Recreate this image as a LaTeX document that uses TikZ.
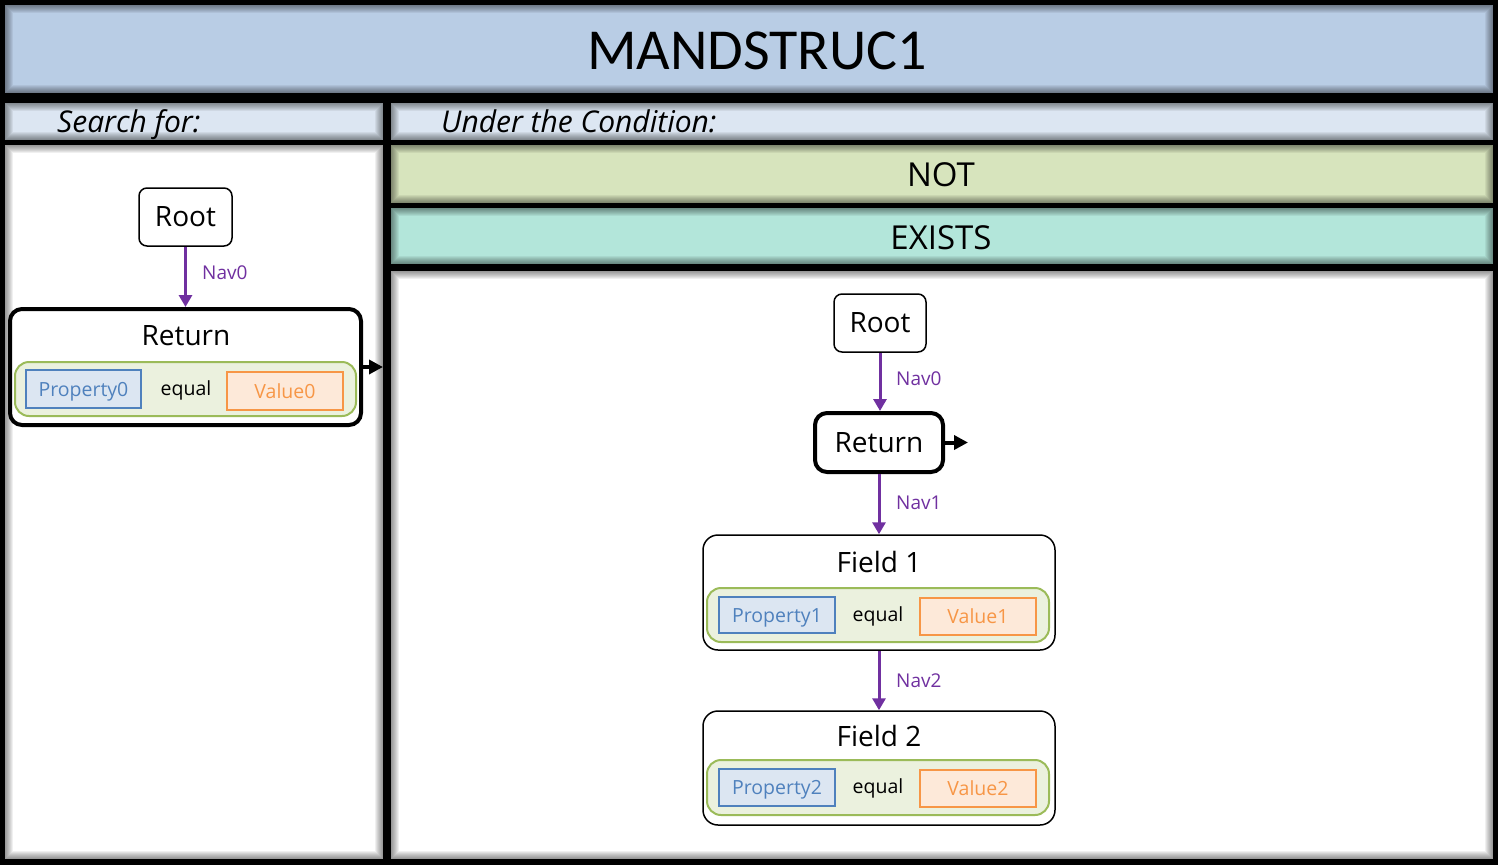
\documentclass[tikz,border=0pt]{standalone}
\usepackage{fontspec}
\setmainfont{Open Sans}
\newfontfamily\titlefont{Carlito}
\usetikzlibrary{arrows.meta}
\definecolor{titleblue}{HTML}{B9CDE5}
\definecolor{headblue}{HTML}{DCE6F2}
\definecolor{notgreen}{HTML}{D7E4BD}
\definecolor{existteal}{HTML}{B3E6DA}
\definecolor{navpurple}{HTML}{7030A0}
\definecolor{condfill}{HTML}{EBF1DE}
\definecolor{conddraw}{HTML}{9BBB59}
\definecolor{propfill}{HTML}{DCE6F2}
\definecolor{propdraw}{HTML}{4F81BD}
\definecolor{valfill}{HTML}{FDE9D9}
\definecolor{valdraw}{HTML}{F79646}
\tikzset{
  panel/.style={rectangle, inner sep=0pt, outer sep=0pt, anchor=north west,
    path picture={\foreach \k in {1,...,8}{\draw[black, opacity=0.06, line width=\k*2pt]
      (path picture bounding box.north west) rectangle
      (path picture bounding box.south east);}}},
  fs/.style={font=\fontsize{#1}{#1}\selectfont},
  simplebox/.style={draw=black, line width=1.5pt, rounded corners=8pt, fill=white, inner sep=0pt},
  retbox/.style={draw=black, line width=4pt, rounded corners=12pt, fill=white, inner sep=0pt},
  fieldbox/.style={draw=black, line width=1.5pt, rounded corners=15pt, fill=white, inner sep=0pt},
  condbox/.style={draw=conddraw, line width=2pt, rounded corners=14pt, fill=condfill, inner sep=0pt},
  propbox/.style={draw=propdraw, line width=2pt, fill=propfill, text=propdraw, inner sep=0pt, fs=19.5, text height=15pt, text depth=1pt},
  valbox/.style={draw=valdraw, line width=2pt, fill=valfill, text=valdraw, inner sep=0pt, fs=19.5, text height=15pt, text depth=1pt},
  eqtext/.style={fs=19.5, text=black},
  navarrow/.style={draw=navpurple, line width=3pt, -{Triangle[length=12pt,width=13pt]}},
  navlabel/.style={fs=19, text=navpurple, anchor=west, inner sep=0pt},
  outarrow/.style={draw=black, line width=4pt, -{Triangle[length=14pt,width=14pt]}},
}
\begin{document}
\begin{tikzpicture}[x=1pt,y=-1pt]
\fill[black] (0,0) rectangle (1498,865);
\useasboundingbox (0,0) rectangle (1498,865);
% panels
\node[panel, fill=titleblue, minimum width=1488pt, minimum height=88pt] (titlep) at (5,5) {};
\node[font=\titlefont\fontsize{58}{58}\selectfont] (title) at (757,51) {MANDSTRUC1};
\node[panel, fill=headblue, minimum width=378pt, minimum height=37pt] (lhead) at (5,103) {};
\node[fs=30, anchor=base west, inner sep=0pt] (lheadt) at (57,132) {\itshape Search for:};
\node[panel, fill=white, minimum width=378pt, minimum height=714pt] (lbody) at (5,145) {};
\node[panel, fill=headblue, minimum width=1102pt, minimum height=37pt] (rhead) at (391,103) {};
\node[fs=30, anchor=base west, inner sep=0pt] (rheadt) at (441,132) {\itshape Under the Condition:};
\node[panel, fill=notgreen, minimum width=1102pt, minimum height=58pt] (notp) at (391,145) {};
\node[fs=33] (nott) at (941,175) {NOT};
\node[panel, fill=existteal, minimum width=1102pt, minimum height=56pt] (exp) at (391,208) {};
\node[fs=33] (ext) at (941,238) {EXISTS};
\node[panel, fill=white, minimum width=1102pt, minimum height=588pt] (rbody) at (391,271) {};
% left diagram
\node[simplebox, minimum width=93pt, minimum height=58pt, fs=28] (lroot) at (185.5,217) {Root};
\node[retbox, minimum width=351pt, minimum height=116pt] (lret) at (185.5,367) {};
\node[fs=28] (lrett) at (186,336) {Return};
\node[condbox, minimum width=341pt, minimum height=54pt] (lcond) at (185.5,389) {};
\node[propbox, minimum width=115pt, minimum height=38pt] (lprop) at (83.5,389) {Property0};
\node[eqtext] (leq) at (186,390) {equal};
\node[valbox, minimum width=116pt, minimum height=38pt] (lval) at (285,391) {Value0};
\draw[navarrow] (lroot.south) -- (lret.north);
\node[navlabel] (lnav0) at (202,273) {Nav0};
\coordinate (lout) at (383,367);
\draw[outarrow] (lret.east) -- (lout);
% right diagram
\node[simplebox, minimum width=92pt, minimum height=58pt, fs=28] (rroot) at (880,323) {Root};
\node[retbox, minimum width=128pt, minimum height=59pt, fs=28] (rret) at (879,442.5) {Return};
\coordinate (rout) at (968,442.5);
\draw[outarrow] (rret.east) -- (rout);
\draw[navarrow] (rroot.south) -- (rroot.south |- rret.north);
\node[navlabel] (rnav0) at (896,379) {Nav0};
% field 1
\node[fieldbox, minimum width=352pt, minimum height=115pt] (f1) at (879,592.5) {};
\node[fs=28] (f1t) at (879,562) {Field 1};
\node[condbox, minimum width=342pt, minimum height=54pt] (c1) at (878,615) {};
\node[propbox, minimum width=116pt, minimum height=36pt] (p1) at (777,615) {Property1};
\node[eqtext] (e1) at (878,616) {equal};
\node[valbox, minimum width=116pt, minimum height=37pt] (v1) at (978,616.5) {Value1};
\draw[navarrow] (rret.south) -- (rret.south |- f1.north);
\node[navlabel] (rnav1) at (896,503) {Nav1};
% field 2
\node[fieldbox, minimum width=352pt, minimum height=114pt] (f2) at (879,768) {};
\node[fs=28] (f2t) at (879,736) {Field 2};
\node[condbox, minimum width=342pt, minimum height=55pt] (c2) at (878,787.5) {};
\node[propbox, minimum width=116pt, minimum height=37pt] (p2) at (777,787.5) {Property2};
\node[eqtext] (e2) at (878,788) {equal};
\node[valbox, minimum width=116pt, minimum height=37pt] (v2) at (978,788.5) {Value2};
\draw[navarrow] (f1.south) -- (f2.north);
\node[navlabel] (rnav2) at (896,681) {Nav2};
\end{tikzpicture}
\end{document}
